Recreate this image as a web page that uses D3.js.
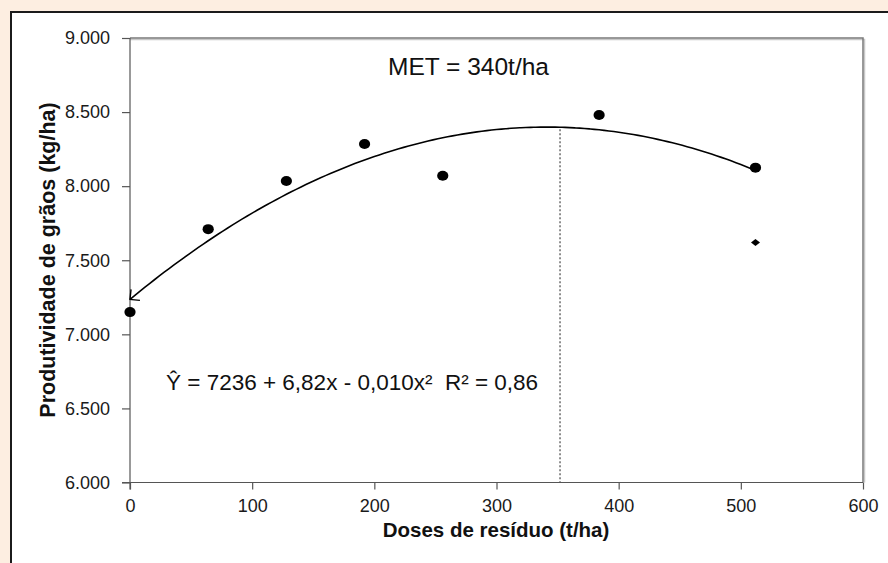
<!DOCTYPE html>
<html><head><meta charset="utf-8">
<script src="https://cdn.jsdelivr.net/npm/d3@7/dist/d3.min.js"></script>
<style>
html,body{margin:0;padding:0;background:#FDEEE1;}
svg{display:block;font-family:"Liberation Sans",Arial,sans-serif;}
</style></head>
<body>
<svg id="c" width="888" height="563"></svg>
<script>
// ---- data ----
const doses = [0, 64, 128, 192, 256, 384, 512];
const produtividade = [7150, 7710, 8035, 8285, 8070, 8480, 8125];
const extraDose = [512];
const extraValue = [7620];
const coef = [7236, 6.82, -0.010];           // fitted equation Y = a + b x + c x²
const metLineX = [352];                        // dotted line position (t/ha)
const xTickValues = [0, 100, 200, 300, 400, 500, 600];
const xTickLabels = ["0", "100", "200", "300", "400", "500", "600"];
const yTickValues = [6000, 6500, 7000, 7500, 8000, 8500, 9000];
const yTickLabels = ["6.000", "6.500", "7.000", "7.500", "8.000", "8.500", "9.000"];
const texts = {
  met: "MET = 340t/ha",
  eq: "Ŷ = 7236 + 6,82x - 0,010x²\u00A0\u00A0R² = 0,86",
  xLabel: "Doses de resíduo (t/ha)",
  yLabel: "Produtividade de grãos (kg/ha)"
};

// ---- drawing ----
const svg = d3.select("#c");
// white panel
svg.append("rect").attr("x", 11).attr("y", 12).attr("width", 900).attr("height", 600)
  .attr("fill", "#fff").attr("stroke", "#1b1b1b").attr("stroke-width", 2);

const L = 130, R = 863, T = 38, B = 482.5;
const x = d3.scaleLinear().domain([0, 600]).range([L, R]);
const y = d3.scaleLinear().domain([6000, 9000]).range([B, T]);

// frame top/right (with light shadow)
svg.append("path").attr("d", `M${L},${T+1.5}H${R+1.5}V${B}`).attr("fill", "none")
  .attr("stroke", "#c8c8c8").attr("stroke-width", 1.5);
svg.append("path").attr("d", `M${L},${T}H${R}V${B}`).attr("fill", "none")
  .attr("stroke", "#7a7a7a").attr("stroke-width", 1.5);

// axes
const gx = svg.append("g").attr("transform", `translate(0,${B})`)
  .call(d3.axisBottom(x).tickValues(xTickValues).tickFormat((d, i) => xTickLabels[i])
    .tickSizeInner(7).tickSizeOuter(0).tickPadding(10));
const gy = svg.append("g").attr("transform", `translate(${L},0)`)
  .call(d3.axisLeft(y).tickValues(yTickValues).tickFormat((d, i) => yTickLabels[i])
    .tickSizeInner(8).tickSizeOuter(0).tickPadding(12));
[gx, gy].forEach(g => {
  g.select(".domain").attr("stroke", "#555").attr("stroke-width", 1.2);
  g.selectAll(".tick line").attr("stroke", "#555").attr("stroke-width", 1.2);
  g.selectAll(".tick text").attr("fill", "#1a1a1a").attr("font-size", 18)
    .attr("font-family", "'Liberation Sans',Arial,sans-serif");
});
gy.select(".domain").attr("d", `M0,${T}V${B + 7}`);
gx.select(".domain").attr("d", `M${L - 8},0H${R}`);

// dotted MET line
const metY = coef[0] + coef[1] * metLineX[0] + coef[2] * metLineX[0] ** 2;
svg.append("line").attr("x1", x(metLineX[0])).attr("x2", x(metLineX[0]))
  .attr("y1", y(metY) + 2).attr("y2", B).attr("stroke", "#555")
  .attr("stroke-width", 1.3).attr("stroke-dasharray", "2,2");

// fitted curve
const xs = d3.range(0, 512.01, 4);
const curve = xs.map(v => [v, coef[0] + coef[1] * v + coef[2] * v * v]);
const line = d3.line().x(d => x(d[0])).y(d => y(d[1])).curve(d3.curveMonotoneX);
svg.append("path").datum(curve).attr("d", line).attr("fill", "none")
  .attr("stroke", "#000").attr("stroke-width", 1.6);
// open arrowhead at the curve start
const p0 = [x(curve[0][0]), y(curve[0][1])], p1 = [x(curve[3][0]), y(curve[3][1])];
const ang = Math.atan2(p1[1] - p0[1], p1[0] - p0[0]);
const al = 10;
const b1 = [p0[0] + al * Math.cos(ang + Math.PI / 4), p0[1] + al * Math.sin(ang + Math.PI / 4)];
const b2 = [p0[0] + al * Math.cos(ang - Math.PI / 4), p0[1] + al * Math.sin(ang - Math.PI / 4)];
svg.append("path").attr("d", `M${b1}L${p0}L${b2}`).attr("fill", "none")
  .attr("stroke", "#000").attr("stroke-width", 1.4);

// points
svg.append("g").selectAll("ellipse").data(doses).join("ellipse")
  .attr("cx", d => x(d)).attr("cy", (d, i) => y(produtividade[i]))
  .attr("rx", 5.6).attr("ry", 5).attr("fill", "#000");
svg.append("g").selectAll("path").data(extraDose).join("path")
  .attr("transform", (d, i) => `translate(${x(d)},${y(extraValue[i])})`)
  .attr("d", "M0,-3.5L4.5,0L0,3.5L-4.5,0Z").attr("fill", "#000");

// texts
svg.append("text").attr("x", 388).attr("y", 75).attr("font-size", 24.5)
  .attr("fill", "#111").text(texts.met);
svg.append("text").attr("x", 166).attr("y", 390).attr("font-size", 22.5)
  .attr("fill", "#111").text(texts.eq);

svg.append("text").attr("x", 496).attr("y", 537).attr("text-anchor", "middle")
  .attr("font-size", 20.5).attr("font-weight", "bold").attr("fill", "#111").text(texts.xLabel);
svg.append("text").attr("transform", "translate(55,260) rotate(-90)").attr("text-anchor", "middle")
  .attr("font-size", 21.5).attr("font-weight", "bold").attr("fill", "#111").text(texts.yLabel);
</script>
</body></html>
